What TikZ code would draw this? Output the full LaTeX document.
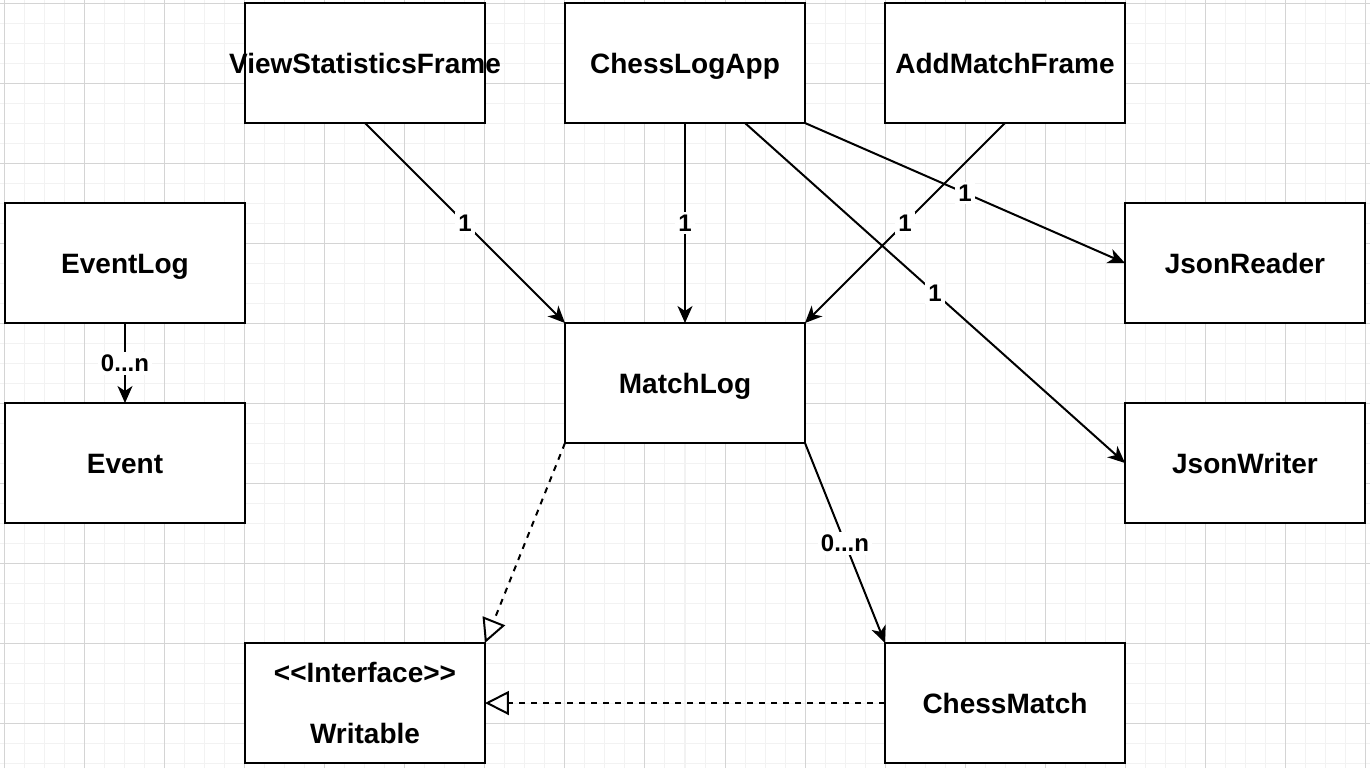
\documentclass[tikz,border=0pt]{standalone}
\usepackage{fontspec}
\setmainfont{Liberation Sans}
\usetikzlibrary{
  arrows.meta,
  positioning
}
\tikzset{
%
  % For normal lines.
  line/.style={
    line width=1pt},
%
  % For the grid lines.
  minor grid/.style={
    line width=0.5pt,
    draw=black!5},
  major grid/.style={
    line width=0.5pt,
    draw=black!17},
%
  % For the relation 'A uses B'.
  uses/.style={
    line,
    -{Stealth[length=8.5pt,
              width=7.5pt,
              inset=2.5pt]}},
%
  % For the relation 'A implements B'.
  implements/.style={
    line,
    dash pattern=on 3pt off 3pt,
    -{Triangle[open,
               fill=white,
               length=12pt,
               width=12pt]}},
%
  % For the multiplicities.
  mult/.style={
    fill=white,
    inner sep=1.5pt,
    font=\fontsize{12pt}{14pt}\selectfont\bfseries},
%
  % For boxes in general.
  box/.style={
    line width=1.2pt,
    draw,
    fill=white,
    outer sep=0pt,
    minimum width=120pt,
    minimum height=60pt,
    font=\fontsize{14pt}{17pt}\selectfont\bfseries},
%
  % For boxes with one line of text.
  class/.style={
    box,
    text height=10pt,
    text depth=0pt}
}

\begin{document}
\begin{tikzpicture}
  \useasboundingbox (-342.5pt,-192.5pt) rectangle (342.5pt,191.5pt);
  \fill[white] (-342.5pt,-192.5pt) rectangle (342.5pt,191.5pt);

  % the background grid
  \draw[minor grid, step=10pt] (-342.5pt,-192.5pt) grid (342.5pt,191.5pt);
  \begin{scope}[shift={(20pt,30pt)}]
    \draw[major grid, step=40pt] (-362.5pt,-222.5pt) grid (322.5pt,161.5pt);
  \end{scope}

  \node[class] (M) {MatchLog};
  \node[class] (A) [above=100pt of M] {ChessLogApp};
  \node[class] (V) [left=40pt of A] {\makebox[0pt]{ViewStatisticsFrame}};
  \node[class] (F) [right=40pt of A] {AddMatchFrame};
  \node[class] (R) [below right=40pt and 0pt of F] {JsonReader};
  \node[class] (J) [below=40pt of R] {JsonWriter};
  \node[class] (L) [below left=40pt and 0pt of V] {EventLog};
  \node[class] (E) [below=40pt of L] {Event};
  \node[class] (C) [below right=100pt and 40pt of M] {ChessMatch};
  \node[box, align=center] (W) [left=200pt of C]
    {<\kern0pt<Interface>\kern0pt>\\[13.5pt]Writable};

  \draw[uses] (V.south) -- (M.north west)
    node[mult, midway] {1};
  \draw[uses] (A.south) -- (M.north)
    node[mult, midway] {1};
  \draw[uses] (F.south) -- (M.north east)
    node[mult, midway] {1};
  \draw[uses] (A.south east) -- (R.west)
    node[mult, midway] {1};
  \draw[uses] ([xshift=-30pt]A.south east) -- (J.west)
    node[mult, midway] {1};
  \draw[uses] (L.south) -- (E.north)
    node[mult, midway] {0...n};
  \draw[uses] (M.south east) -- (C.north west)
    node[mult, midway] {0...n};

  \draw[implements] (M.south west) -- (W.north east);
  \draw[implements] (C.west) -- (W.east);
\end{tikzpicture}
\end{document}
